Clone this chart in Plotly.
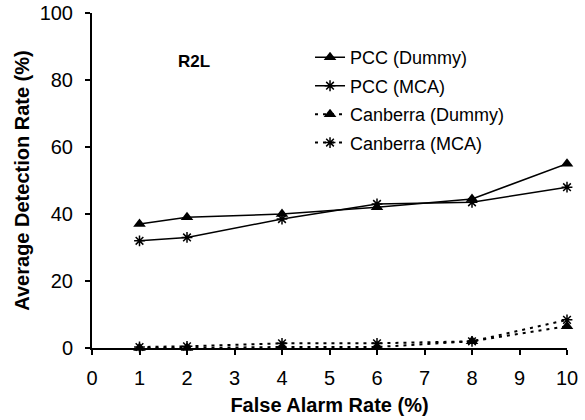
import plotly.graph_objects as go

x_vals = [1, 2, 4, 6, 8, 10]
pcc_dummy = [37, 39, 40, 42, 44.5, 55]
pcc_mca = [32, 33, 38.5, 43, 43.5, 48]
canberra_dummy = [0, 0, 0.3, 0.3, 2, 6.5]
canberra_mca = [0.3, 0.5, 1.4, 1.4, 2, 8.4]
x_ticks = list(range(0, 11))
y_ticks = [0, 20, 40, 60, 80, 100]

FONT = "Liberation Sans, Arial, sans-serif"

series = [
    ("PCC (Dummy)", pcc_dummy, "solid", "triangle-up"),
    ("PCC (MCA)", pcc_mca, "solid", "asterisk-open"),
    ("Canberra (Dummy)", canberra_dummy, "3px,5px", "triangle-up"),
    ("Canberra (MCA)", canberra_mca, "3px,5px", "asterisk-open"),
]

fig = go.Figure()
for i, (name, vals, dash, sym) in enumerate(series):
    is_star = sym.startswith("asterisk")
    fig.add_trace(go.Scatter(
        x=x_vals, y=vals, name=name, mode="lines+markers",
        legendgroup=f"g{i}", cliponaxis=False,
        line=dict(color="black", width=1.5 if dash == "solid" else 2, dash=dash),
        marker=dict(symbol=sym, size=9 if is_star else 11, color="black",
                    line=dict(color="black", width=1.5 if is_star else 0)),
    ))

fig.add_annotation(x=2.15, y=85.5, text="<b>R2L</b>", showarrow=False,
                   font=dict(family=FONT, size=17, color="black"))

axis_common = dict(
    showgrid=False, zeroline=False, showline=True, linecolor="black", linewidth=2,
    ticks="outside", ticklen=5, tickwidth=1.5, tickcolor="black", automargin=False,
    tickfont=dict(family=FONT, size=20, color="black"),
)

fig.update_layout(
    width=585, height=420,
    margin=dict(l=92, r=18, t=13, b=72),
    paper_bgcolor="white", plot_bgcolor="white",
    xaxis=dict(range=[0, 10], tickvals=x_ticks, ticklabelstandoff=6,
               title=dict(text="<b>False Alarm Rate (%)</b>", standoff=10,
                          font=dict(family=FONT, size=20, color="black")),
               **axis_common),
    yaxis=dict(range=[0, 100], tickvals=y_ticks, ticklabelstandoff=8,
               title=dict(text="<b>Average Detection Rate (%)</b>", standoff=5,
                          font=dict(family=FONT, size=20, color="black")),
               **axis_common),
    legend=dict(x=0.459, y=0.922, xanchor="left", yanchor="top",
                bgcolor="rgba(0,0,0,0)", tracegroupgap=2,
                font=dict(family=FONT, size=18, color="black")),
    showlegend=True,
)

fig.write_html("out.html", config={"displayModeBar": False},
               post_script="document.body.style.margin='0';document.body.style.overflow='hidden';")
